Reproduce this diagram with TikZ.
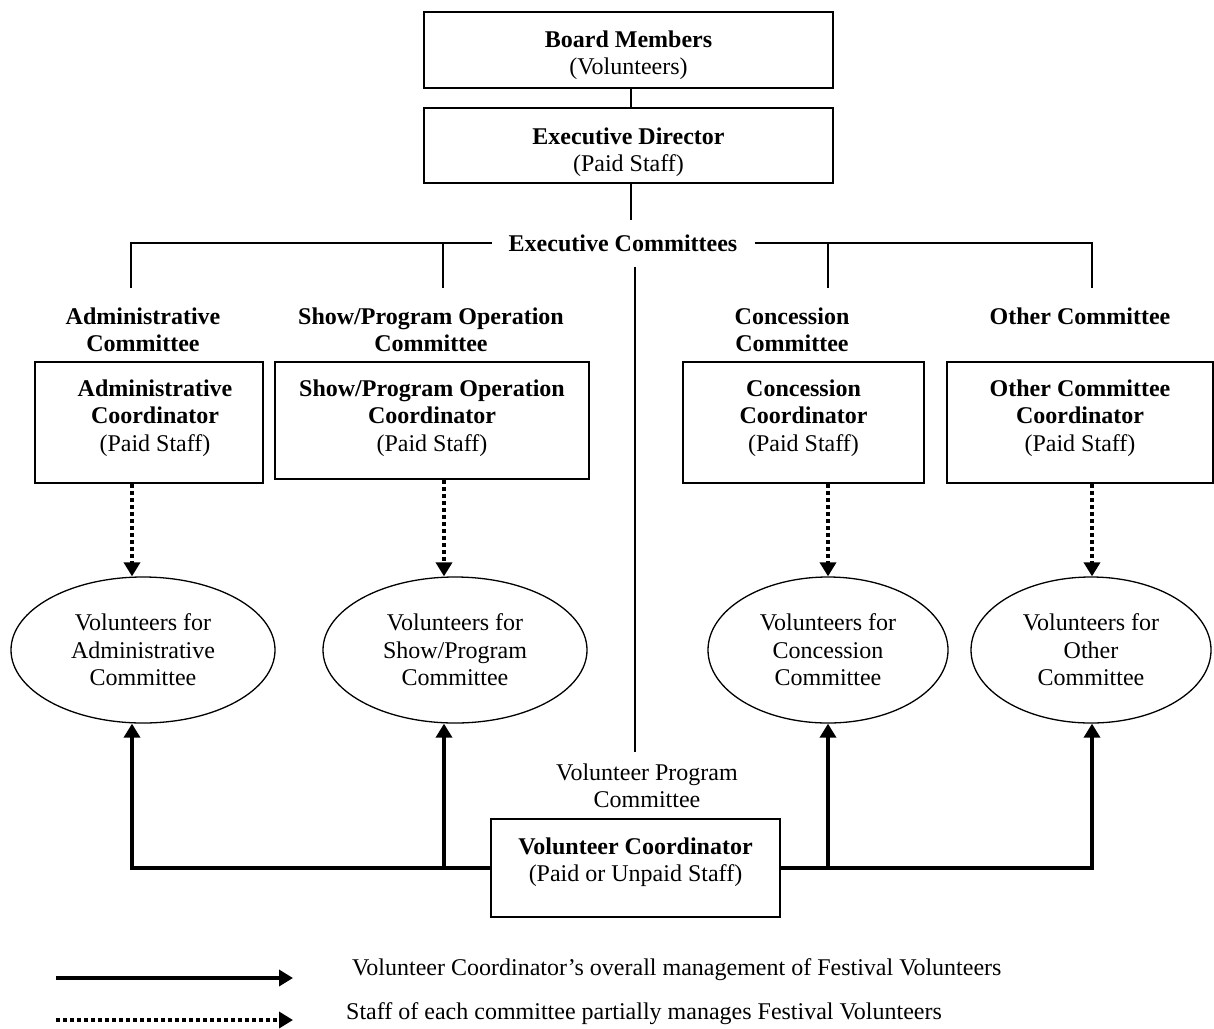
\documentclass[tikz,border=0pt]{standalone}
\usepackage{fontspec}
\setmainfont{Liberation Serif}
\usetikzlibrary{shapes.geometric,arrows.meta}
\begin{document}
\begin{tikzpicture}[x=1pt,y=-1pt,
  every node/.style={font=\fontsize{24}{27.5}\selectfont},
  boxshape/.style={draw, line width=1.6pt, inner sep=0pt, rectangle},
  txt/.style={inner sep=0pt, anchor=north, align=center},
  ell/.style={draw, ellipse, line width=1.3pt, inner sep=0pt, align=center, minimum height=146pt},
  conn/.style={line width=1.5pt},
  dotarr/.style={line width=4pt, dash pattern=on 4pt off 3pt, -{Triangle[width=16pt,length=14pt]}},
  solarr/.style={line width=4pt, -{Triangle[width=16pt,length=14pt]}}
]
\useasboundingbox (0,0) rectangle (1214,1028);

% top boxes
\node[boxshape, minimum width=409pt, minimum height=76pt] (board) at (628.5,50) {};
\node[txt] (boardt) at (628.5,30.5) {\textbf{Board Members}\\(Volunteers)};
\node[boxshape, minimum width=409pt, minimum height=75pt] (ed) at (628.5,145.5) {};
\node[txt] (edt) at (628.5,127.5) {\textbf{Executive Director}\\(Paid Staff)};

\node[inner xsep=17pt, inner ysep=0pt] (ec) at (623,243) {\textbf{Executive Committees}};

% committee labels
\node[txt] (al) at (143,307.5) {\textbf{Administrative}\\\textbf{Committee}};
\node[txt] (sl) at (431,307.5) {\textbf{Show/Program Operation}\\\textbf{Committee}};
\node[txt] (cl) at (792,307.5) {\textbf{Concession}\\\textbf{Committee}};
\node[txt] (ol) at (1080,307.5) {\textbf{Other Committee}};

% coordinator boxes
\node[boxshape, minimum width=228pt, minimum height=121pt] (abox) at (149,422.5) {};
\node[txt] (abt) at (155,379.5) {\textbf{Administrative}\\\textbf{Coordinator}\\(Paid Staff)};
\node[boxshape, minimum width=314pt, minimum height=117pt] (sbox) at (432,420.5) {};
\node[txt] (sbt) at (432,379.5) {\textbf{Show/Program Operation}\\\textbf{Coordinator}\\(Paid Staff)};
\node[boxshape, minimum width=241pt, minimum height=121pt] (cbox) at (803.5,422.5) {};
\node[txt] (cbt) at (803.5,379.5) {\textbf{Concession}\\\textbf{Coordinator}\\(Paid Staff)};
\node[boxshape, minimum width=266pt, minimum height=121pt] (obox) at (1080,422.5) {};
\node[txt] (obt) at (1080,379.5) {\textbf{Other Committee}\\\textbf{Coordinator}\\(Paid Staff)};

% ellipses
\node[ell, minimum width=264pt] (ae) at (143,650) {Volunteers for\\Administrative\\Committee};
\node[ell, minimum width=264pt] (se) at (455,650) {Volunteers for\\Show/Program\\Committee};
\node[ell, minimum width=240pt] (ce) at (828,650) {Volunteers for\\Concession\\Committee};
\node[ell, minimum width=240pt] (oe) at (1091,650) {Volunteers for\\Other\\Committee};

% volunteer coordinator
\node[txt] (vpl) at (647,763.5) {Volunteer Program\\Committee};
\node[boxshape, minimum width=289pt, minimum height=98pt] (vcbox) at (635.5,868) {};
\node[txt] (vct) at (635.5,837.5) {\textbf{Volunteer Coordinator}\\(Paid or Unpaid Staff)};

% coordinates
\coordinate (m) at (631,0);
\coordinate (edend) at (631,220);
\coordinate (vtop) at (635,267);
\coordinate (vbot) at (635,752);
\coordinate (t1) at (131,288);
\coordinate (t2) at (443,288);
\coordinate (t3) at (828,288);
\coordinate (t4) at (1092,288);
\coordinate (c1) at (132,0);
\coordinate (c2) at (444,0);
\coordinate (c3) at (828,0);
\coordinate (c4) at (1092,0);

% thin connectors
\draw[conn] (board.south -| m) -- (ed.north -| m);
\draw[conn] (ed.south -| m) -- (edend);
\draw[conn] (ec.west) -| (t1);
\draw[conn] (ec.west -| t2) -- (t2);
\draw[conn] (ec.east) -| (t4);
\draw[conn] (ec.east -| t3) -- (t3);
\draw[conn] (vtop) -- (vbot);

% dotted arrows
\draw[dotarr] (abox.south -| c1) -- (ae.north -| c1);
\draw[dotarr] (sbox.south -| c2) -- (se.north -| c2);
\draw[dotarr] (cbox.south -| c3) -- (ce.north -| c3);
\draw[dotarr] (obox.south -| c4) -- (oe.north -| c4);

% solid arrows
\draw[solarr] (vcbox.west) -| (ae.south -| c1);
\draw[solarr] (vcbox.west -| c2) -- (se.south -| c2);
\draw[solarr] (vcbox.east) -| (oe.south -| c4);
\draw[solarr] (vcbox.east -| c3) -- (ce.south -| c3);

% legend
\coordinate (ls1) at (56,978);
\coordinate (le1) at (293,978);
\coordinate (ls2) at (56,1020);
\coordinate (le2) at (293,1020);
\draw[solarr] (ls1) -- (le1);
\draw[dotarr] (ls2) -- (le2);
\node[anchor=west, inner sep=0pt] (lt1) at (352,970) {Volunteer Coordinator’s overall management of Festival Volunteers};
\node[anchor=west, inner sep=0pt] (lt2) at (346,1014) {Staff of each committee partially manages Festival Volunteers};
\end{tikzpicture}
\end{document}
